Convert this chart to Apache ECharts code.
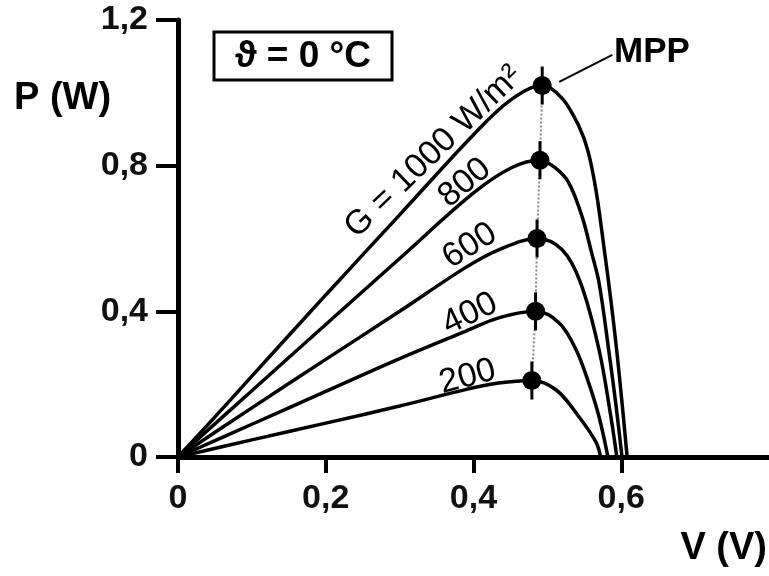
<!DOCTYPE html>
<html>
<head>
<meta charset="utf-8">
<script src="https://cdn.jsdelivr.net/npm/echarts@6/dist/echarts.min.js"></script>
<style>html,body{margin:0;padding:0;background:#fff}#c{width:769px;height:576px}</style>
</head>
<body>
<div id="c"></div>
<script>
// Tick values
const xTicks = [0, 0.2, 0.4, 0.6];
const yTicks = [0, 0.4, 0.8, 1.2];

// P-V curves (V in volts, P in watts) for each irradiance G
const gLabels = ['G = 1000 W/m²', '800', '600', '400', '200'];
const v1000 = [0, 0.05, 0.1, 0.2, 0.3, 0.4, 0.45, 0.493, 0.52, 0.543, 0.555, 0.566, 0.577, 0.586, 0.594, 0.601, 0.608];
const p1000 = [0, 0.11, 0.222, 0.445, 0.665, 0.885, 0.98, 1.02, 0.985, 0.907, 0.84, 0.73, 0.57, 0.43, 0.29, 0.15, 0];
const v800 = [0, 0.1, 0.2, 0.3, 0.4, 0.452, 0.49, 0.51, 0.529, 0.547, 0.56, 0.57, 0.583, 0.593, 0.601];
const p800 = [0, 0.182, 0.364, 0.545, 0.725, 0.795, 0.815, 0.795, 0.753, 0.66, 0.56, 0.478, 0.294, 0.14, 0];
const v600 = [0, 0.1, 0.2, 0.3, 0.389, 0.434, 0.486, 0.52, 0.545, 0.57, 0.586, 0.594];
const p600 = [0, 0.135, 0.268, 0.40, 0.52, 0.569, 0.60, 0.569, 0.478, 0.294, 0.11, 0];
const v400 = [0, 0.1, 0.2, 0.3, 0.389, 0.434, 0.484, 0.516, 0.539, 0.556, 0.57, 0.582];
const p400 = [0, 0.09, 0.18, 0.27, 0.345, 0.382, 0.40, 0.368, 0.294, 0.203, 0.11, 0];
const v200 = [0, 0.1, 0.2, 0.3, 0.389, 0.434, 0.479, 0.512, 0.543, 0.566, 0.572];
const p200 = [0, 0.047, 0.093, 0.14, 0.185, 0.203, 0.21, 0.184, 0.11, 0.04, 0];

// Maximum power points
const mppV = [0.493, 0.49, 0.486, 0.484, 0.479];
const mppP = [1.02, 0.815, 0.60, 0.40, 0.21];

// Curve label anchors (data coords) and angles
const labV = [0.346, 0.388, 0.395, 0.395, 0.392];
const labP = [0.838, 0.753, 0.58, 0.393, 0.22];
const labRot = [44, 40, 32, 26, 15];

// MPP leader line
const leadV = [0.516, 0.588];
const leadP = [1.03, 1.104];

const zip = (a, b) => a.map((x, i) => [x, b[i]]);
const curves = [[v1000, p1000], [v800, p800], [v600, p600], [v400, p400], [v200, p200]];
const FONT = 'Liberation Sans, Arial, Helvetica, sans-serif';
const fmt = v => v === 0 ? '0' : v.toFixed(1).replace('.', ',');

const series = [];
curves.forEach((c, i) => {
  series.push({
    type: 'line', data: zip(c[0], c[1]), smooth: 0.35, symbol: 'none',
    lineStyle: { color: '#000', width: 3.5 }, z: 3
  });
});
series.push({
  type: 'line', data: zip(mppV, mppP), symbol: 'none',
  lineStyle: { color: '#888', width: 2, type: 'dotted' }, z: 2
});
series.push({
  type: 'scatter', data: zip(mppV, mppP), symbol: 'rect', symbolSize: [3, 38],
  itemStyle: { color: '#000', opacity: 1 }, z: 4
});
series.push({
  type: 'scatter', data: zip(mppV, mppP), symbol: 'circle', symbolSize: 19,
  itemStyle: { color: '#000', opacity: 1 }, z: 5
});
series.push({
  type: 'line', data: zip(leadV, leadP), symbol: 'none',
  lineStyle: { color: '#000', width: 2 }, z: 4
});
series.push({
  type: 'scatter', symbolSize: 0, z: 6, itemStyle: { opacity: 1 },
  data: labV.map((v, i) => ({
    value: [v, labP[i]],
    label: { show: true, position: 'inside', formatter: gLabels[i], rotate: labRot[i],
      fontFamily: FONT, fontSize: 34, color: '#000', opacity: 1 }
  }))
});

const chart = echarts.init(document.getElementById('c'), null, { renderer: 'canvas' });
chart.setOption({
  animation: false,
  backgroundColor: '#fff',
  grid: { left: 178, right: 0, top: 20, bottom: 119, containLabel: false },
  xAxis: [{
    type: 'value', min: 0, max: 0.8, interval: 0.2,
    axisLine: { show: true, onZero: false, lineStyle: { color: '#000', width: 5 } },
    axisTick: { show: true, length: 16, customValues: xTicks, lineStyle: { color: '#000', width: 4 } },
    axisLabel: { show: true, customValues: xTicks, formatter: fmt, margin: 25,
      fontFamily: FONT, fontSize: 34, fontWeight: 'bold', color: '#111' },
    splitLine: { show: false }
  }, {
    type: 'value', min: 0, max: 0.8, position: 'top',
    axisLine: { show: true, lineStyle: { color: '#000', width: 5 } },
    axisTick: { show: false }, axisLabel: { show: false }, splitLine: { show: false }
  }],
  yAxis: {
    type: 'value', min: 0, max: 1.2, interval: 0.4,
    axisLine: { show: true, onZero: false, lineStyle: { color: '#000', width: 5 } },
    axisTick: { show: true, length: 22, customValues: yTicks, lineStyle: { color: '#000', width: 4 } },
    axisLabel: { show: true, customValues: yTicks, formatter: fmt, margin: 30,
      fontFamily: FONT, fontSize: 34, fontWeight: 'bold', color: '#111' },
    splitLine: { show: false }
  },
  graphic: [
    { type: 'text', left: 14, top: 80, style: { text: 'P (W)', font: 'bold 38px ' + FONT, fill: '#000' } },
    { type: 'text', right: 2, top: 530, style: { text: 'V (V)', font: 'bold 38px ' + FONT, fill: '#000' } },
    { type: 'text', left: 614, top: 35, style: { text: 'MPP', font: 'bold 35px ' + FONT, fill: '#000' } },
    { type: 'rect', shape: { x: 214, y: 32, width: 178, height: 48 },
      style: { fill: '#fff', stroke: '#000', lineWidth: 3 }, z: 10 },
    { type: 'text', x: 303, y: 57, z: 11,
      style: { text: 'ϑ = 0 °C', font: 'bold 37px ' + FONT, fill: '#000', align: 'center', verticalAlign: 'middle' } }
  ],
  series: series
});
</script>
</body>
</html>
